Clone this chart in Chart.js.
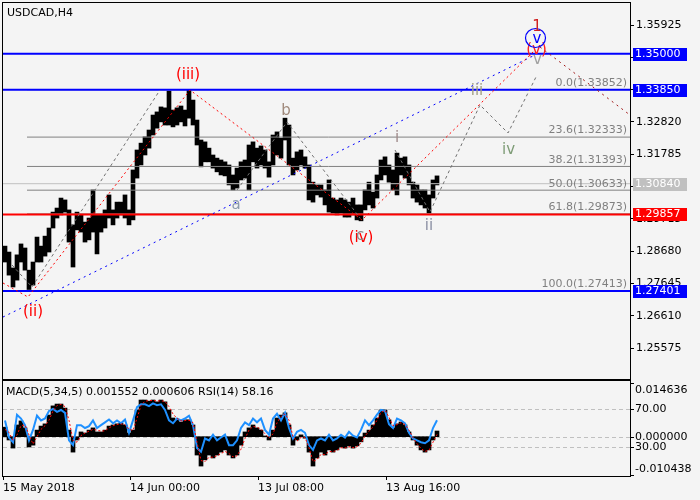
<!DOCTYPE html>
<html>
<head>
<meta charset="utf-8">
<title>USDCAD,H4</title>
<script src="https://cdn.jsdelivr.net/npm/chart.js@4.4.1/dist/chart.umd.min.js"></script>
<style>
  body { margin: 0; background: #f4f4f4; }
  #wrap { position: relative; width: 700px; height: 500px; }
  #priceChart { position: absolute; left: 0; top: 0; }
  #indChart { position: absolute; left: 0; top: 378px; }
</style>
</head>
<body>
<div id="wrap">
  <canvas id="priceChart" width="700" height="380"></canvas>
  <canvas id="indChart" width="700" height="122"></canvas>
</div>
<script>
const symbol = 'USDCAD,H4';

// x is counted in columns of ~4 H4 bars, 0 = 15 May 2018
const xMax = 156.75;
const xTickPos = [0, 31.75, 63.75, 95.75];
const xTickText = ['15 May 2018', '14 Jun 00:00', '13 Jul 08:00', '13 Aug 16:00'];

const priceTicks = [1.35925, 1.34890, 1.33855, 1.32820, 1.31785, 1.30750, 1.29715, 1.28680, 1.27645, 1.26610, 1.25575];

const highs = [
  1.2884, 1.2865, 1.2814, 1.2856, 1.2891, 1.2878, 1.2807, 1.2833, 1.2913, 1.2884,
  1.2916, 1.2942, 1.2993, 1.3006, 1.3038, 1.3032, 1.3000, 1.2952, 1.2993, 1.2984,
  1.2961, 1.2974, 1.3064, 1.2984, 1.2984, 1.3000, 1.3048, 1.3000, 1.3025, 1.3025,
  1.3048, 1.3000, 1.3128, 1.3192, 1.3214, 1.3234, 1.3256, 1.3304, 1.3314, 1.3330,
  1.3327, 1.3381, 1.3320, 1.3327, 1.3333, 1.3320, 1.3385, 1.3352, 1.3288, 1.3224,
  1.3218, 1.3198, 1.3176, 1.3166, 1.3160, 1.3154, 1.3144, 1.3112, 1.3134, 1.3154,
  1.3160, 1.3208, 1.3218, 1.3198, 1.3205, 1.3192, 1.3154, 1.3240, 1.3250, 1.3230,
  1.3294, 1.3272, 1.3166, 1.3186, 1.3192, 1.3170, 1.3144, 1.3089, 1.3080, 1.3080,
  1.3064, 1.3096, 1.3038, 1.3032, 1.3038, 1.3032, 1.3025, 1.3038, 1.3016, 1.3016,
  1.3064, 1.3089, 1.3057, 1.3112, 1.3160, 1.3170, 1.3144, 1.3128, 1.3182, 1.3166,
  1.3170, 1.3144, 1.3089, 1.3080, 1.3064, 1.3064, 1.3048, 1.3096, 1.3109
];
const lows = [
  1.2833, 1.2791, 1.2753, 1.2775, 1.2833, 1.2807, 1.2745, 1.2759, 1.2833, 1.2833,
  1.2852, 1.2865, 1.2942, 1.2974, 1.2984, 1.2993, 1.2897, 1.2817, 1.2936, 1.2929,
  1.2897, 1.2904, 1.2929, 1.2859, 1.2929, 1.2942, 1.2974, 1.2952, 1.2974, 1.2984,
  1.2974, 1.2952, 1.2968, 1.3102, 1.3144, 1.3176, 1.3198, 1.3240, 1.3262, 1.3282,
  1.3272, 1.3272, 1.3266, 1.3272, 1.3282, 1.3269, 1.3294, 1.3272, 1.3208, 1.3138,
  1.3154, 1.3154, 1.3134, 1.3122, 1.3112, 1.3109, 1.3080, 1.3064, 1.3070, 1.3096,
  1.3102, 1.3064, 1.3154, 1.3134, 1.3144, 1.3134, 1.3105, 1.3144, 1.3176, 1.3166,
  1.3224, 1.3144, 1.3112, 1.3128, 1.3144, 1.3134, 1.3032, 1.3025, 1.3048, 1.3041,
  1.3016, 1.2993, 1.2990, 1.2984, 1.2990, 1.2977, 1.2977, 1.2984, 1.2968, 1.2965,
  1.3000, 1.3016, 1.3006, 1.3038, 1.3096, 1.3112, 1.3089, 1.3064, 1.3048, 1.3112,
  1.3102, 1.3080, 1.3038, 1.3025, 1.3016, 1.3006, 1.2990, 1.3038, 1.3080
];

// horizontal levels: 1.35000, 1.33850, current price, 1.29857, 1.27401
const levelPrices = [1.35000, 1.33850, 1.30840, 1.29857, 1.27401];

// fibonacci grid
const fibPct = [0.0, 23.6, 38.2, 50.0, 61.8, 100.0];
const fibPrice = [1.33852, 1.32333, 1.31393, 1.30633, 1.29873, 1.27413];
const fibStart = 6;

// wave lines
const waveRedX = [0, 6.25, 46.75, 89.75, 133];
const waveRedY = [1.27658, 1.27209, 1.33842, 1.29677, 1.35124];
const projX = [134.25, 156.75];
const projY = [1.35220, 1.33041];
const trendX = [0, 133];
const trendY = [1.26568, 1.34964];
const chanX = [2.25, 7.25, 39.25];
const chanY = [1.28235, 1.27530, 1.33842];
const abcX = [58.5, 71, 89.25];
const abcY = [1.30638, 1.32817, 1.29741];
const subX = [98, 106.75, 119.25, 126.25, 133.5];
const subY = [1.31920, 1.29933, 1.33362, 1.32464, 1.34323];

// wave labels
const waveText = ['(ii)', '(iii)', 'a', 'b', '(iv)', 'c', 'i', 'ii', 'iii', 'iv', 'v', '(v)', 'v', '1'];
const waveX = [7.5, 46.25, 58.25, 70.75, 89.5, 89.25, 98.5, 106.5, 118.5, 126.375, 133.625, 133.375, 133.5, 133.5];
const waveY = [1.26729, 1.34323, 1.30157, 1.33169, 1.29100, 1.29164, 1.32304, 1.29484, 1.33794, 1.31904, 1.34803, 1.35108, 1.35476, 1.35845];

// indicator window
const macd = [
  0.0026, -0.0009, -0.0031, 0.0032, 0.0043, 0.0024, -0.0028, -0.0023, 0.0018, 0.0029,
  0.0035, 0.0059, 0.0084, 0.0089, 0.0089, 0.0078, 0.0018, -0.0042, -0.0009, 0.0013,
  0.0010, 0.0018, 0.0024, 0.0013, 0.0013, 0.0018, 0.0029, 0.0032, 0.0035, 0.0037,
  0.0032, 0.0010, 0.0018, 0.0073, 0.0100, 0.0100, 0.0097, 0.0100, 0.0095, 0.0100,
  0.0095, 0.0073, 0.0051, 0.0046, 0.0040, 0.0046, 0.0046, 0.0032, -0.0050, -0.0080,
  -0.0063, -0.0050, -0.0058, -0.0050, -0.0042, -0.0036, -0.0050, -0.0058, -0.0050, -0.0023,
  0.0013, 0.0024, 0.0032, 0.0024, 0.0018, 0.0002, -0.0009, 0.0018, 0.0051, 0.0059,
  0.0065, 0.0032, -0.0023, -0.0009, 0.0005, -0.0004, -0.0042, -0.0080, -0.0058, -0.0042,
  -0.0050, -0.0036, -0.0042, -0.0036, -0.0028, -0.0031, -0.0025, -0.0031, -0.0025, -0.0014,
  0.0010, 0.0018, 0.0032, 0.0051, 0.0073, 0.0073, 0.0046, 0.0024, 0.0035, 0.0040,
  0.0032, 0.0013, -0.0009, -0.0023, -0.0036, -0.0042, -0.0036, -0.0009, 0.001552
];
const signal = [
  0.0020, 0.0012, -0.0010, 0.0005, 0.0030, 0.0032, 0.0005, -0.0020, 0.0000, 0.0020,
  0.0030, 0.0045, 0.0070, 0.0085, 0.0088, 0.0082, 0.0045, -0.0010, -0.0015, 0.0003,
  0.0010, 0.0015, 0.0020, 0.0018, 0.0015, 0.0016, 0.0024, 0.0030, 0.0033, 0.0035,
  0.0033, 0.0020, 0.0017, 0.0050, 0.0085, 0.0097, 0.0098, 0.0099, 0.0097, 0.0098,
  0.0096, 0.0082, 0.0062, 0.0050, 0.0043, 0.0044, 0.0045, 0.0038, -0.0015, -0.0065,
  -0.0068, -0.0056, -0.0056, -0.0052, -0.0046, -0.0040, -0.0046, -0.0055, -0.0052, -0.0034,
  -0.0005, 0.0018, 0.0028, 0.0026, 0.0020, 0.0008, -0.0004, 0.0008, 0.0038, 0.0055,
  0.0062, 0.0045, 0.0000, -0.0012, -0.0002, -0.0002, -0.0030, -0.0068, -0.0062, -0.0048,
  -0.0049, -0.0040, -0.0041, -0.0037, -0.0030, -0.0031, -0.0027, -0.0030, -0.0027, -0.0018,
  0.0002, 0.0015, 0.0027, 0.0045, 0.0066, 0.0072, 0.0053, 0.0030, 0.0033, 0.0038,
  0.0033, 0.0018, -0.0003, -0.0019, -0.0032, -0.0040, -0.0037, -0.0015, 0.000606
];
const rsi = [
  58, 40, 35, 64, 60, 53, 37, 48, 63, 58,
  60, 68, 70, 67, 69, 66, 37, 32, 53, 53,
  50, 52, 58, 50, 53, 56, 59, 55, 58, 55,
  59, 45, 58, 72, 75, 75, 73, 76, 74, 75,
  69, 58, 55, 60, 58, 60, 63, 53, 29, 25,
  39, 37, 43, 37, 40, 43, 32, 32, 37, 50,
  56, 53, 60, 56, 60, 48, 43, 60, 65, 58,
  66, 50, 39, 46, 48, 45, 32, 27, 37, 39,
  37, 43, 37, 39, 43, 40, 46, 42, 40, 48,
  58, 53, 58, 64, 69, 68, 54, 50, 60, 58,
  55, 45, 39, 37, 35, 34, 37, 50, 58.16
];
const macdMarks = [0.014636, 0.000000, -0.010438];
const rsiMarks = [70, 30];

// ---- styles ----
const FONT = '"DejaVu Sans"';
const levelStyle = [
  { c: '#0000ff', w: 2 }, { c: '#0000ff', w: 2 }, { c: '#c0c0c0', w: 1 },
  { c: '#ff0000', w: 2 }, { c: '#0000ff', w: 2 }
];
const waveColor = ['#ff0000', '#ff0000', '#8c9cae', '#a08a7c', '#ff0000', '#8a8a8a', '#a08c8c',
  '#8c90a4', '#a4a084', '#7e9c76', '#a0a0a0', '#ff2020', '#0000ff', '#d02020'];
const circled = 12;

function pts(xs, ys) {
  return xs.map((x, i) => ({ x: x, y: ys[i] }));
}

function lineDs(data, color, dash, width, order) {
  return {
    data: data, borderColor: color, borderDash: dash, borderWidth: width,
    pointRadius: 0, tension: 0, fill: false, order: order
  };
}

function frame(ctx, a) {
  ctx.strokeStyle = '#000';
  ctx.lineWidth = 1;
  ctx.strokeRect(a.left - 0.5, a.top - 0.5, a.width + 1, a.height + 1);
}

const priceDecor = {
  id: 'priceDecor',
  afterDatasetsDraw(chart) {
    const { ctx, chartArea: a, scales: { x, y } } = chart;
    ctx.save();
    ctx.font = '11px ' + FONT;
    ctx.fillStyle = '#808080';
    ctx.textAlign = 'right';
    ctx.textBaseline = 'bottom';
    fibPct.forEach((p, k) => {
      ctx.fillText(p.toFixed(1) + '(' + fibPrice[k].toFixed(5) + ')', a.right - 3, y.getPixelForValue(fibPrice[k]) - 1);
    });

    ctx.font = '15px ' + FONT;
    ctx.textAlign = 'center';
    ctx.textBaseline = 'middle';
    waveText.forEach((t, k) => {
      const px = x.getPixelForValue(waveX[k]);
      const py = y.getPixelForValue(waveY[k]);
      ctx.fillStyle = waveColor[k];
      ctx.fillText(t, px, py);
      if (k === circled) {
        ctx.strokeStyle = '#0000ff';
        ctx.lineWidth = 1.2;
        ctx.beginPath();
        ctx.ellipse(px - 1.5, py - 1, 10, 9.5, 0, 0, Math.PI * 2);
        ctx.stroke();
      }
    });
    ctx.restore();
  },
  afterDraw(chart) {
    const { ctx, chartArea: a, scales: { y } } = chart;
    ctx.save();
    frame(ctx, a);
    ctx.font = '11px ' + FONT;
    ctx.fillStyle = '#000';
    ctx.textAlign = 'left';
    ctx.textBaseline = 'middle';
    ctx.fillText(symbol, a.left + 4, a.top + 10);

    levelPrices.forEach((p, k) => {
      const py = Math.round(y.getPixelForValue(p));
      ctx.fillStyle = levelStyle[k].c;
      ctx.fillRect(a.right + 3, py - 6, 54, 13);
      ctx.fillStyle = '#fff';
      ctx.fillText(p.toFixed(5), a.right + 5, py + 0.5);
    });
    ctx.restore();
  }
};

const priceChart = new Chart(document.getElementById('priceChart'), {
  type: 'line',
  data: {
    datasets: [
      {
        type: 'bar',
        data: highs.map((h, i) => ({ x: i + 0.5, y: [lows[i], h] })),
        backgroundColor: '#000', borderWidth: 0,
        barPercentage: 1, categoryPercentage: 1, order: 20
      },
      ...fibPrice.map(p => lineDs(pts([fibStart, xMax], [p, p]), '#808080', [], 1, 15)),
      ...levelPrices.map((p, k) => lineDs(pts([0, xMax], [p, p]), levelStyle[k].c, [], levelStyle[k].w, 10)),
      lineDs(pts(chanX, chanY), '#707070', [3, 3], 1, 6),
      lineDs(pts(abcX, abcY), '#707070', [3, 3], 1, 6),
      lineDs(pts(subX, subY), '#707070', [3, 3], 1, 6),
      lineDs(pts(trendX, trendY), '#0000ff', [2, 4], 1, 5),
      lineDs(pts(projX, projY), '#a01818', [2, 4], 1, 4),
      lineDs(pts(waveRedX, waveRedY), '#ff0000', [2, 3], 1, 3)
    ]
  },
  options: {
    responsive: false,
    animation: false,
    events: [],
    layout: { padding: { left: 3, top: 3, right: 0, bottom: 1 } },
    plugins: { legend: { display: false }, tooltip: { enabled: false } },
    scales: {
      x: { type: 'linear', min: 0, max: xMax, offset: false, grid: { offset: false }, display: false },
      y: {
        type: 'linear', position: 'right', min: 1.24582, max: 1.36630,
        afterBuildTicks: s => { s.ticks = priceTicks.map(v => ({ value: v })); },
        afterFit: s => { s.width = 70; s.paddingTop = 0; s.paddingBottom = 0; },
        grid: { drawOnChartArea: false, color: '#000', tickLength: 4 },
        border: { color: '#000' },
        ticks: {
          font: { family: 'DejaVu Sans', size: 11 }, color: '#000', padding: 2,
          callback: v => v.toFixed(5)
        }
      }
    }
  },
  plugins: [priceDecor]
});

const indDecor = {
  id: 'indDecor',
  beforeDatasetsDraw(chart) {
    const { ctx, chartArea: a, scales: { ym, yr } } = chart;
    ctx.save();
    ctx.strokeStyle = '#c0c0c0';
    ctx.lineWidth = 1;
    ctx.setLineDash([4, 3]);
    const ys = [ym.getPixelForValue(0), ...rsiMarks.map(v => yr.getPixelForValue(v))];
    ys.forEach(py => {
      py = Math.round(py) + 0.5;
      ctx.beginPath();
      ctx.moveTo(a.left, py);
      ctx.lineTo(a.right, py);
      ctx.stroke();
    });
    ctx.restore();
  },
  afterDraw(chart) {
    const { ctx, chartArea: a, scales: { ym, yr } } = chart;
    ctx.save();
    frame(ctx, a);
    ctx.font = '11px ' + FONT;
    ctx.fillStyle = '#000';
    ctx.textAlign = 'left';
    ctx.textBaseline = 'middle';
    const n = macd.length - 1;
    ctx.fillText('MACD(5,34,5) ' + macd[n].toFixed(6) + ' ' + signal[n].toFixed(6) +
      ' RSI(14) ' + rsi[n].toFixed(2), a.left + 3, a.top + 11);

    const marks = [];
    macdMarks.forEach((v, k) => marks.push({
      py: ym.getPixelForValue(v), txt: v.toFixed(6),
      base: k === 0 ? 'top' : (k === macdMarks.length - 1 ? 'bottom' : 'middle')
    }));
    rsiMarks.forEach(v => marks.push({ py: yr.getPixelForValue(v), txt: v.toFixed(2), base: 'middle' }));
    ctx.strokeStyle = '#000';
    marks.forEach(m => {
      const py = Math.round(m.py) + 0.5;
      ctx.beginPath();
      ctx.moveTo(a.right, py);
      ctx.lineTo(a.right + 4, py);
      ctx.stroke();
      ctx.textBaseline = m.base;
      ctx.fillText(m.txt, a.right + 5, m.base === 'top' ? py + 1 : (m.base === 'bottom' ? py - 1 : py));
    });
    ctx.restore();
  }
};

const indChart = new Chart(document.getElementById('indChart'), {
  type: 'line',
  data: {
    datasets: [
      {
        type: 'bar', yAxisID: 'ym',
        data: macd.map((v, i) => ({ x: i + 0.5, y: v })),
        backgroundColor: '#000', borderWidth: 0,
        barPercentage: 1, categoryPercentage: 1, order: 3
      },
      {
        yAxisID: 'yr', data: rsi.map((v, i) => ({ x: i + 0.5, y: v })),
        borderColor: '#1e90ff', borderWidth: 2, pointRadius: 0, tension: 0, order: 2
      },
      {
        yAxisID: 'ym', data: signal.map((v, i) => ({ x: i + 0.5, y: v })),
        borderColor: '#ff0000', borderWidth: 1, borderDash: [2, 2], pointRadius: 0, tension: 0, order: 1
      }
    ]
  },
  options: {
    responsive: false,
    animation: false,
    events: [],
    layout: { padding: { left: 3, top: 3, right: 70, bottom: 0 } },
    plugins: { legend: { display: false }, tooltip: { enabled: false } },
    scales: {
      x: {
        type: 'linear', min: 0, max: xMax, offset: false,
        afterBuildTicks: s => { s.ticks = xTickPos.map(v => ({ value: v })); },
        afterFit: s => { s.height = 24; s.paddingLeft = 0; s.paddingRight = 0; },
        grid: { drawOnChartArea: false, offset: false, color: '#000', tickLength: 4 },
        border: { color: '#000' },
        ticks: {
          font: { family: 'DejaVu Sans', size: 11 }, color: '#000', align: 'start',
          maxRotation: 0, autoSkip: false, padding: 2,
          callback: (v, i) => xTickText[i]
        }
      },
      ym: { type: 'linear', min: -0.010711, max: 0.015181, display: false },
      yr: { type: 'linear', min: -0.5, max: 99.5, display: false }
    }
  },
  plugins: [indDecor]
});
</script>
</body>
</html>
